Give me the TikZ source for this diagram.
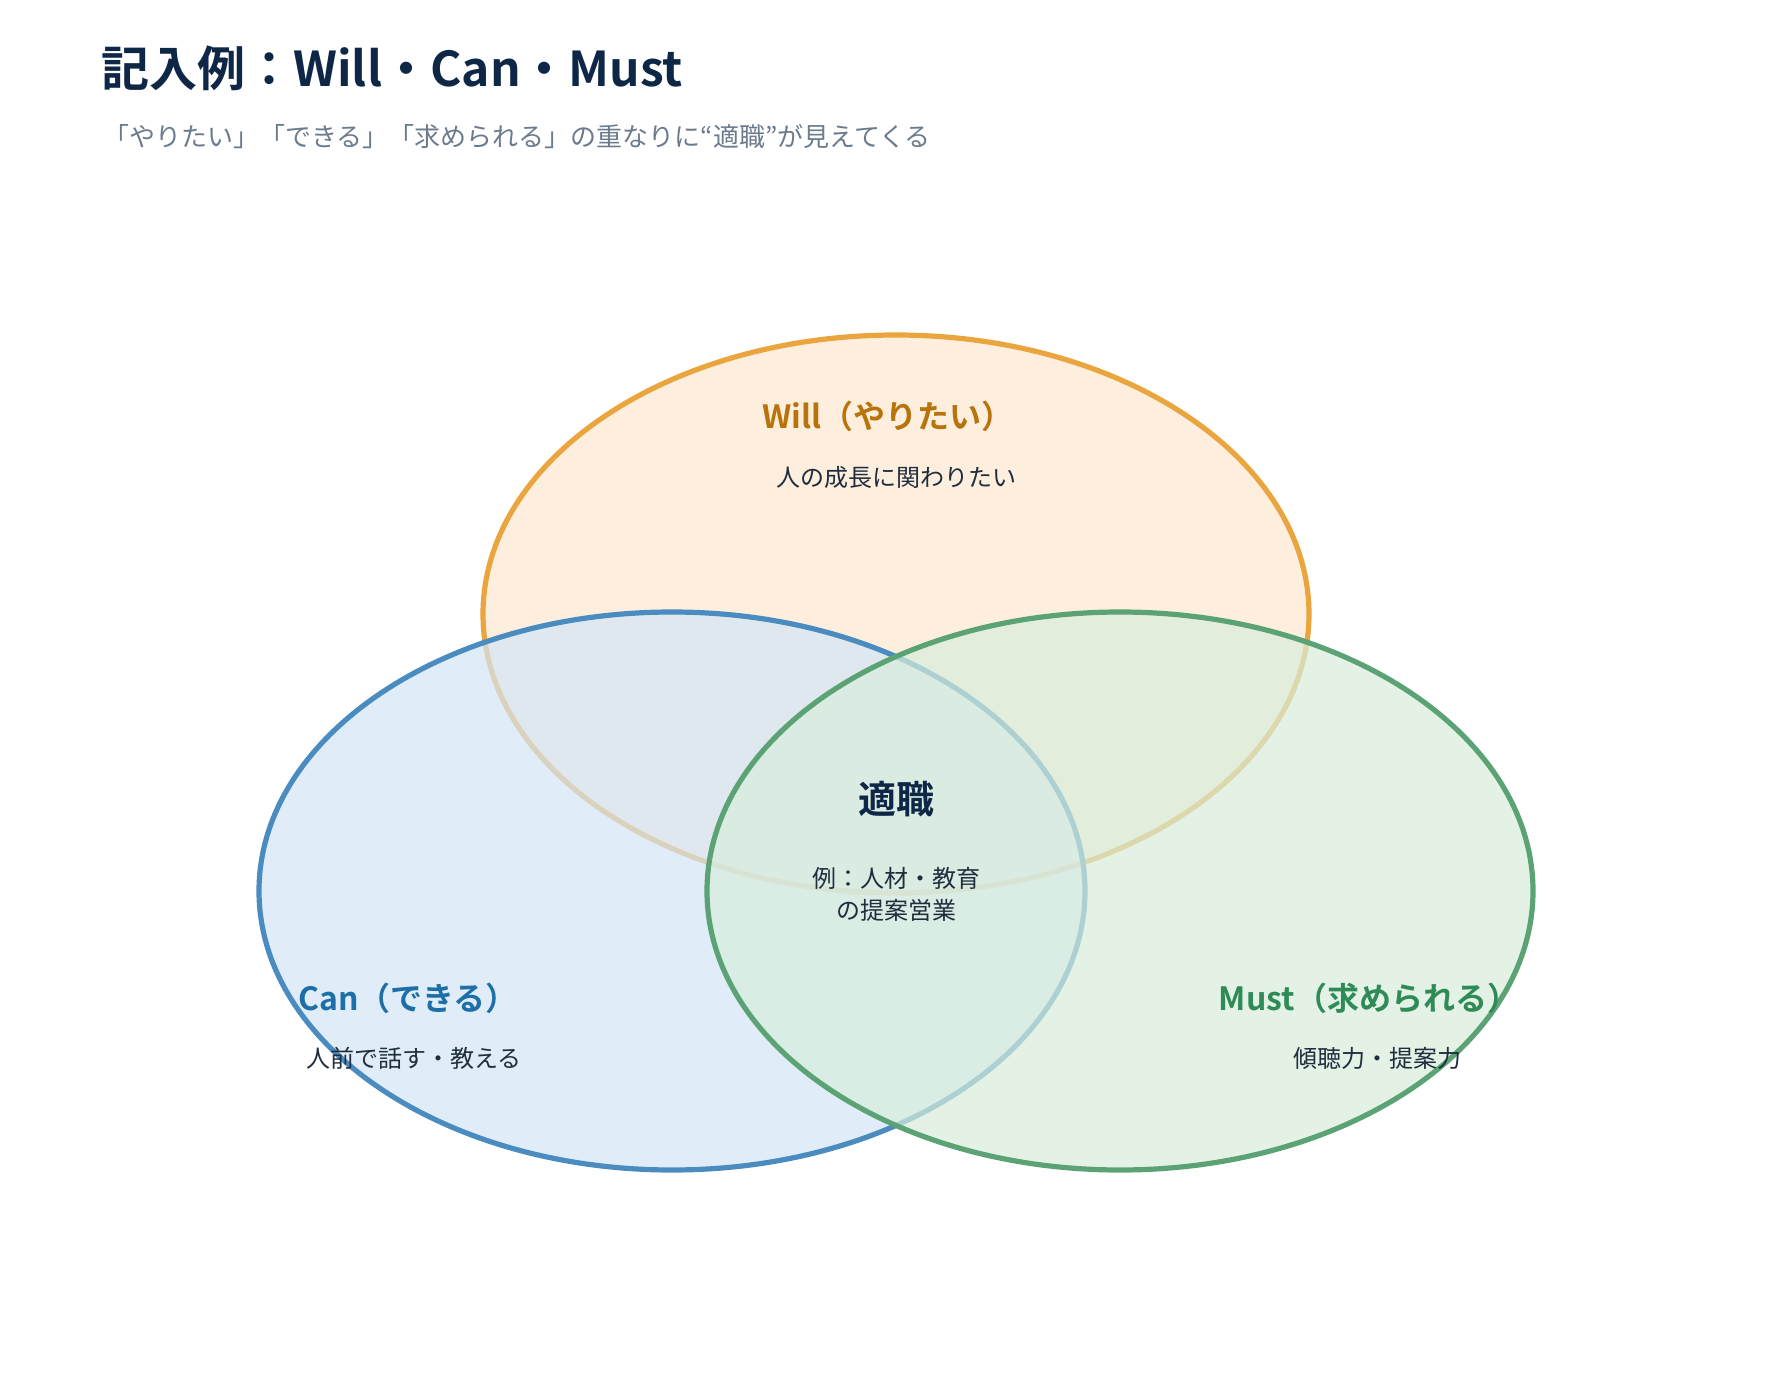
\documentclass[tikz,border=0pt]{standalone}
\usepackage{fontspec}
\setmainfont{Noto Sans CJK JP}[BoldFont={Noto Sans CJK JP Bold}]
\usepackage{tikz}
\definecolor{willline}{HTML}{EBA53F}
\definecolor{willfill}{HTML}{FCE7CF}
\definecolor{willtext}{HTML}{B8730A}
\definecolor{canline}{HTML}{4A8CC0}
\definecolor{canfill}{HTML}{D3E6F5}
\definecolor{cantext}{HTML}{1D6FA8}
\definecolor{mustline}{HTML}{5BA375}
\definecolor{mustfill}{HTML}{D8EDDC}
\definecolor{musttext}{HTML}{2E8B57}
\definecolor{titlecol}{HTML}{0F2747}
\definecolor{subcol}{HTML}{6B7B8C}
\definecolor{bodycol}{HTML}{1F2D3D}
\tikzset{
	setstyle/.style={line width=2.6pt,fill opacity=0.7},
	labelstyle/.style={font=\fontsize{16}{18}\selectfont\bfseries},
	bodystyle/.style={font=\fontsize{12}{14}\selectfont,text=bodycol,align=center}
}

\begin{document}
\begin{tikzpicture}[x=0.5pt,y=-0.5pt]
	\useasboundingbox (0,0) rectangle (1785,1393);
	\node[anchor=base west,text=titlecol,font=\fontsize{24}{28}\selectfont\bfseries,inner sep=0] (title) at (101,86) {記入例：Will・Can・Must};
	\node[anchor=west,text=subcol,font=\fontsize{13}{15}\selectfont,inner sep=0] (sub) at (103,137) {「やりたい」「できる」「求められる」の重なりに“適職”が見えてくる};
	\draw[setstyle,draw=willline,fill=willfill] (896,614) ellipse (413 and 279);
	\draw[setstyle,draw=canline,fill=canfill] (672,891) ellipse (413 and 279);
	\draw[setstyle,draw=mustline,fill=mustfill] (1120,891) ellipse (413 and 279);
	\node[labelstyle,text=willtext] (will) at (888,416) {Will（やりたい）};
	\node[bodystyle] (willnote) at (896,477) {人の成長に関わりたい};
	\node[labelstyle,text=cantext] (can) at (408,998) {Can（できる）};
	\node[bodystyle] (cannote) at (414,1058) {人前で話す・教える};
	\node[labelstyle,text=musttext] (must) at (1369,998) {Must（求められる）};
	\node[bodystyle] (mustnote) at (1377,1058) {傾聴力・提案力};
	\node[font=\fontsize{19}{22}\selectfont\bfseries,text=titlecol] (fit) at (896,799) {適職};
	\node[bodystyle,font=\fontsize{12}{16}\selectfont] (fitnote) at (896,894) {例：人材・教育\\の提案営業};
\end{tikzpicture}
\end{document}
